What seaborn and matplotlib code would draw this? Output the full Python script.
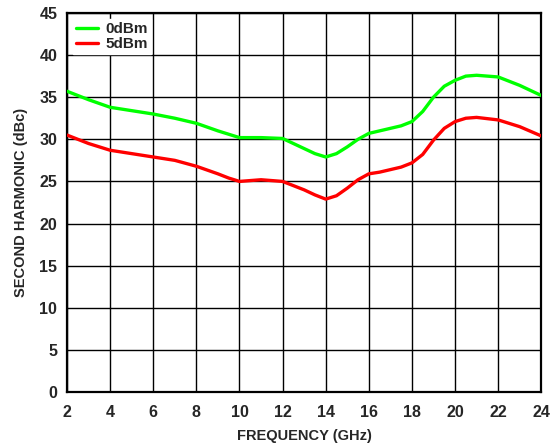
import numpy as np
import pandas as pd
import matplotlib
matplotlib.use('Agg')
import matplotlib.pyplot as plt
import seaborn as sns

SET_DPI = 100
FIGSIZE = (5.54, 4.46)

FREQ = [2, 3, 4, 5, 6, 7, 8, 9, 9.5, 10, 10.5, 11, 12, 13, 13.5, 14, 14.5, 15, 15.5, 16,
        16.5, 17, 17.5, 18, 18.5, 19, 19.5, 20, 20.5, 21, 22, 23, 24]
H2_0DBM = [35.7, 34.7, 33.8, 33.4, 33.0, 32.5, 31.9, 31.0, 30.6, 30.2, 30.2, 30.2, 30.1,
           28.9, 28.3, 27.9, 28.3, 29.1, 30.0, 30.7, 31.0, 31.3, 31.6, 32.1, 33.3, 35.0,
           36.3, 37.0, 37.5, 37.6, 37.4, 36.4, 35.2]
H2_5DBM = [30.5, 29.5, 28.7, 28.3, 27.9, 27.5, 26.8, 25.9, 25.4, 25.0, 25.1, 25.2, 25.0,
           24.0, 23.4, 22.9, 23.3, 24.2, 25.2, 25.9, 26.1, 26.4, 26.7, 27.2, 28.2, 29.9,
           31.3, 32.1, 32.5, 32.6, 32.3, 31.5, 30.4]
SERIES = ['0dBm', '5dBm']
COLOURS = ['#00ff00', '#ff0000']

sns.set_style('white')
plt.rcParams['font.family'] = ['Liberation Sans', 'DejaVu Sans']
plt.rcParams['font.weight'] = 'bold'

data = pd.DataFrame({'freq': FREQ * 2,
                     'h2': H2_0DBM + H2_5DBM,
                     'power': [SERIES[0]] * len(FREQ) + [SERIES[1]] * len(FREQ)})

fig = plt.figure(figsize=FIGSIZE, dpi=SET_DPI)
ax = fig.add_axes([0.121, 0.121, 0.856, 0.850])
sns.lineplot(x='freq', y='h2', hue='power', data=data, palette=COLOURS,
             linewidth=2.4, ax=ax, zorder=3, solid_joinstyle='round')

ax.set_xlim(2, 24)
ax.set_ylim(0, 45)
ax.set_xticks(np.arange(2, 25, 2))
ax.set_yticks(np.arange(0, 46, 5))
ax.grid(True, color='black', linewidth=1.0)
for sp in ax.spines.values():
    sp.set_color('black')
    sp.set_linewidth(1.6)
ax.tick_params(axis='both', length=0, labelsize=11.5)
ax.tick_params(axis='x', pad=9)
ax.tick_params(axis='y', pad=7)
for lab in ax.get_xticklabels() + ax.get_yticklabels():
    lab.set_fontweight('bold')
ax.set_xlabel('FREQUENCY (GHz)', fontsize=10.5, fontweight='bold', labelpad=7)
ax.set_ylabel('SECOND HARMONIC (dBc)', fontsize=10.5, fontweight='bold', labelpad=8)

leg = ax.legend(loc='upper left', frameon=True, fancybox=False, framealpha=1,
                edgecolor='white', fontsize=11, handlelength=1.4,
                handletextpad=0.5, borderpad=0.2, labelspacing=0.05,
                borderaxespad=0.4)
for t in leg.get_texts():
    t.set_fontweight('bold')
leg.set_zorder(5)

plt.savefig('out.png', dpi=SET_DPI)
plt.close('all')
